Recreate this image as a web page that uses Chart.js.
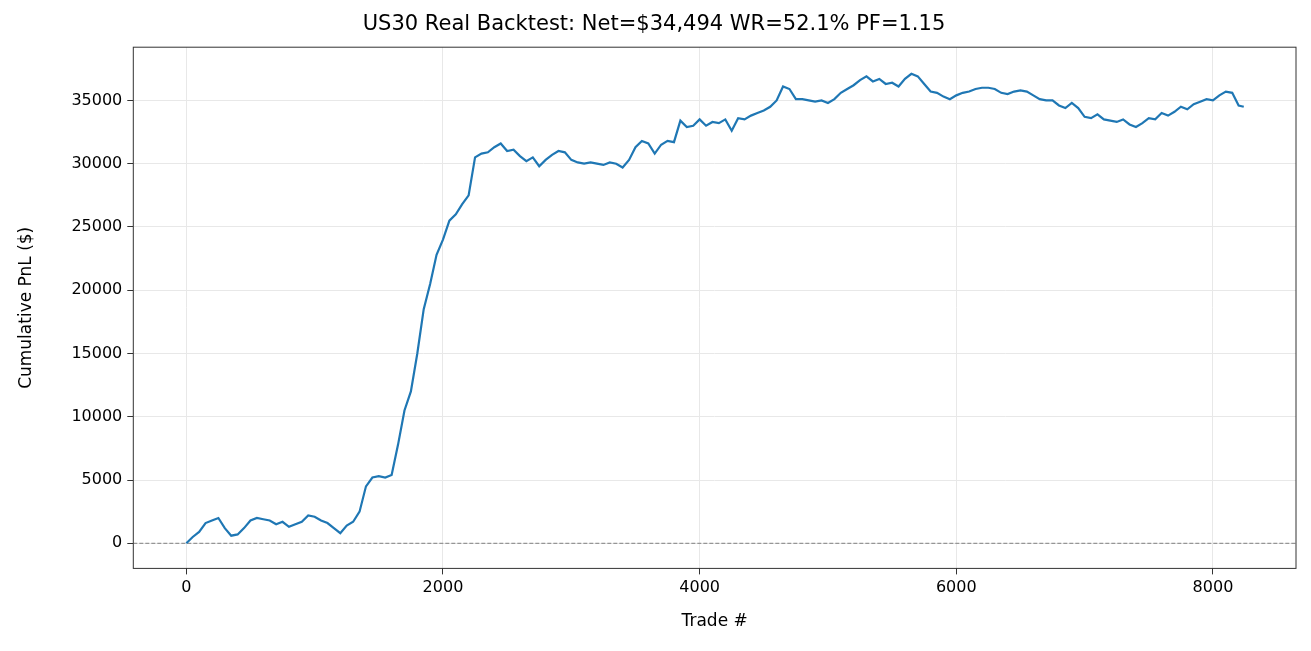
<!DOCTYPE html>
<html><head><meta charset="utf-8">
<script src="https://cdn.jsdelivr.net/npm/chart.js@4"></script>
<style>html,body{margin:0;background:#fff}#w{width:1311px;height:651px}</style>
</head><body><div id="w"><canvas id="c"></canvas></div>
<script>
const trades=[];for(let i=0;i<=8200;i+=50)trades.push(i);trades.push(8240);
const pnl=[0,500,900,1600,1800,2000,1200,600,700,1200,1800,2000,1900,1800,1500,1700,1300,1500,1700,2200,2100,1800,1600,1200,800,1400,1700,2500,4500,5200,5300,5200,5400,7800,10500,12000,15000,18500,20500,22800,24000,25500,26000,26800,27500,30500,30800,30900,31300,31600,31000,31100,30600,30200,30500,29800,30300,30700,31000,30900,30300,30100,30000,30100,30000,29900,30100,30000,29700,30300,31300,31800,31600,30800,31500,31800,31700,33400,32900,33000,33500,33000,33300,33200,33500,32600,33600,33500,33800,34000,34200,34500,35000,36100,35900,35100,35100,35000,34900,35000,34800,35100,35600,35900,36200,36600,36900,36500,36700,36300,36400,36100,36700,37100,36900,36300,35700,35600,35300,35100,35400,35600,35700,35900,36000,36000,35900,35600,35500,35700,35800,35700,35400,35100,35000,35000,34600,34400,34800,34400,33700,33600,33900,33500,33400,33300,33500,33100,32900,33200,33600,33500,34000,33800,34100,34500,34300,34700,34900,35100,35000,35400,35700,35600,34600,34500];
const xTicks=[0,2000,4000,6000,8000];
const yTicks=[0,5000,10000,15000,20000,25000,30000,35000];
const title='US30 Real Backtest: Net=$34,494 WR=52.1% PF=1.15';
const xMin=-413,xMax=8647,yMin=-1984,yMax=39206;
Chart.defaults.font.family='DejaVu Sans';Chart.defaults.color='#000';
const border={id:'b',afterDraw(c){const a=c.chartArea,x=c.ctx;x.save();x.strokeStyle='#333';x.lineWidth=1;x.strokeRect(a.left,a.top,a.right-a.left,a.bottom-a.top);x.restore();}};
new Chart(document.getElementById('c'),{type:'line',
data:{datasets:[
{data:trades.map((t,i)=>({x:t,y:pnl[i]})),borderColor:'#1f77b4',borderWidth:2.2,pointRadius:0,tension:0},
{data:[{x:xMin,y:0},{x:xMax,y:0}],borderColor:'#808080',borderWidth:1,borderDash:[4,2],pointRadius:0}]},
plugins:[border],
options:{responsive:true,maintainAspectRatio:false,animation:false,
layout:{padding:{left:12,right:15,top:2,bottom:15}},
plugins:{legend:{display:false},tooltip:{enabled:false},title:{display:true,text:title,font:{size:21,weight:'normal'},padding:{top:10,bottom:10}}},
scales:{
x:{type:'linear',min:xMin,max:xMax,afterBuildTicks:s=>{s.ticks=xTicks.map(v=>({value:v}))},
ticks:{font:{size:16},maxRotation:0,padding:4,callback:v=>String(v)},grid:{color:'#e8e8e8',tickColor:'#333',tickLength:6},border:{display:false},
title:{display:true,text:'Trade #',font:{size:17},padding:{top:10}}},
y:{min:yMin,max:yMax,afterBuildTicks:s=>{s.ticks=yTicks.map(v=>({value:v}))},
ticks:{font:{size:16},padding:5,callback:v=>String(v)},grid:{color:'#e8e8e8',tickColor:'#333',tickLength:6},border:{display:false},
title:{display:true,text:'Cumulative PnL ($)',font:{size:17},padding:{bottom:30}}}}}});
</script></body></html>
